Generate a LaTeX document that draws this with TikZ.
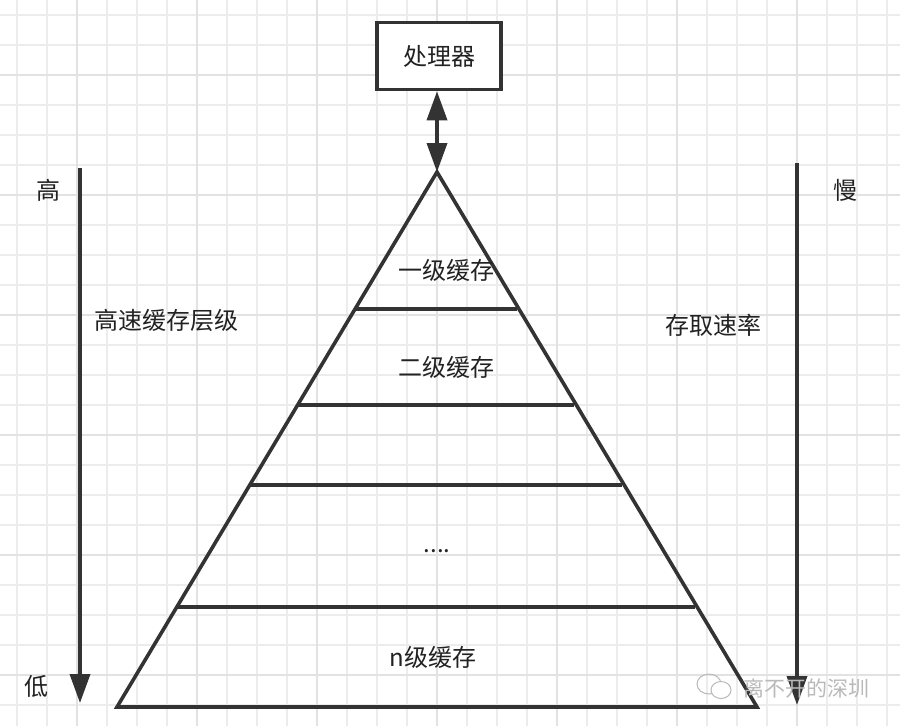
\documentclass[tikz,border=0pt]{standalone}
\usepackage{fontspec}
\setmainfont{Noto Sans CJK SC}
\usetikzlibrary{arrows.meta,calc}
\definecolor{gridminor}{RGB}{236,236,236}
\definecolor{gridmajor}{RGB}{226,226,226}
\definecolor{ink}{RGB}{51,51,51}
\definecolor{txt}{RGB}{34,34,34}
\begin{document}
\begin{tikzpicture}[x=1pt,y=-1pt,
  lbl/.style={font=\fontsize{24}{28}\selectfont, text=txt, inner sep=0pt},
  heavy/.style={line width=3.6pt, draw=ink},
  bigtip/.style={-{Triangle[length=29pt,width=20pt]}},
  mark wm/.style={font=\fontsize{21}{24}\selectfont, text=gray!55, inner sep=0pt}]
\useasboundingbox (0,0) rectangle (900,726);
\fill[white] (0,0) rectangle (900,726);
% grid
\foreach \i in {0,...,29} \draw[gridminor, line width=1.2pt] ({17+30*\i},0) -- ({17+30*\i},726);
\foreach \j in {0,...,24} \draw[gridminor, line width=1.2pt] (0,{15+30*\j}) -- (900,{15+30*\j});
\foreach \x in {77,197,317,437,557,677,797} \draw[gridmajor, line width=2.2pt] (\x,0) -- (\x,726);
\foreach \y in {75,195,315,435,555,675} \draw[gridmajor, line width=2.2pt] (0,\y) -- (900,\y);

% processor
\node[draw=ink, line width=3.6pt, fill=white, minimum width=124pt, minimum height=67pt, lbl] (cpu) at (439,56) {处理器};

% pyramid
\coordinate (apex) at (437,172);
\coordinate (bl) at (117,707);
\coordinate (br) at (757,707);
\draw[heavy, line join=miter] (apex) -- (bl) -- (br) -- cycle;
\foreach \t/\n in {0.256/a,0.4355/b,0.585/c,0.813/d}{
  \coordinate (L\n) at ($(apex)!\t!(bl)$);
  \coordinate (R\n) at ($(apex)!\t!(br)$);
  \draw[heavy] (L\n) -- ($(R\n)+(-2,0)$);
}

% double arrow
\coordinate (cpub) at (apex |- cpu.south);
\draw[heavy, {Triangle[length=29pt,width=20pt]}-{Triangle[length=29pt,width=20pt]}] (cpub) -- (apex);

% side arrows
\coordinate (la1) at (80,168);
\coordinate (la2) at (80,703);
\draw[heavy, bigtip] (la1) -- (la2);
\coordinate (ra1) at (797,163);
\coordinate (ra2) at (797,705);
\draw[heavy, bigtip] (ra1) -- (ra2);

% labels
\node[lbl] (hi) at (48,190) {高};
\node[lbl] (lo) at (36,686) {低};
\node[lbl] (lvl) at (166,320) {高速缓存层级};
\node[lbl] (slow) at (845,190) {慢};
\node[lbl] (rate) at (713,325) {存取速率};
\node[lbl] (l1) at (446,270) {一级缓存};
\node[lbl] (l2) at (446,367) {二级缓存};
\node[lbl] (dots) at (437,551) {....};
\node[lbl] (ln) at (433,657) {n级缓存};

% watermark
\draw[gray!55, line width=1pt] (709,684) ellipse (12pt and 10pt);
\draw[gray!55, line width=1pt, fill=white] (721,690) ellipse (10pt and 8.5pt);
\node[mark wm] (wm) at (806,688) {离不开的深圳};
\end{tikzpicture}
\end{document}
